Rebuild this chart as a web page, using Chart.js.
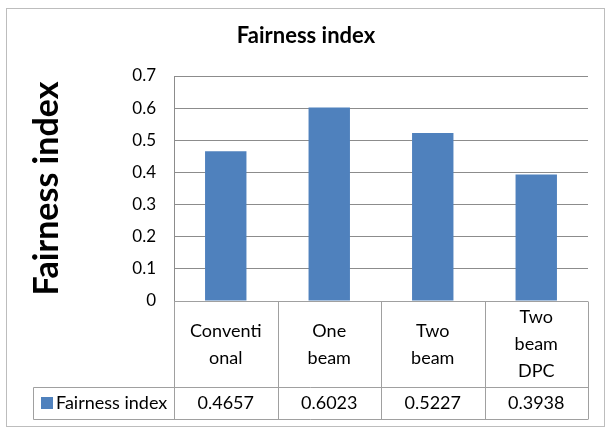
<!DOCTYPE html>
<html lang="en">
<head>
  <meta charset="UTF-8" />
  <title>Fairness index</title>
  <script src="https://cdn.jsdelivr.net/npm/chart.js"></script>
  <style>
    body { margin: 0; background: #fff; }
    canvas { display: block; }
  </style>
</head>
<body>
  <canvas id="fairChart" width="608" height="430"></canvas>

  <script>
    // data (category labels are wrapped the way the original table shows them)
    const categories = [['Conventi', 'onal'], ['One', 'beam'], ['Two', 'beam'], ['Two', 'beam', 'DPC']];
    const seriesName = 'Fairness index';
    const fairness = [0.4657, 0.6023, 0.5227, 0.3938];
    const valueLabels = ['0.4657', '0.6023', '0.5227', '0.3938'];
    const yTicks = [0, 0.1, 0.2, 0.3, 0.4, 0.5, 0.6, 0.7];

    const barColor = '#4f81bd';
    const lineColor = '#a0a0a0';
    const font = 'Lato';

    // white background + outer chart frame
    const frame = {
      id: 'frame',
      beforeDraw(chart) {
        const ctx = chart.ctx;
        ctx.save();
        ctx.fillStyle = '#fff';
        ctx.fillRect(0, 0, chart.width, chart.height);
        ctx.strokeStyle = '#bdbdbd';
        ctx.lineWidth = 1;
        ctx.strokeRect(6.5, 8.5, 598, 418);
        ctx.restore();
      }
    };

    // Excel style data table under the plot
    const dataTable = {
      id: 'dataTable',
      afterDraw(chart) {
        const { ctx, chartArea: a, scales: { x } } = chart;
        const half = (a.right - a.left) / categories.length / 2;
        const top = Math.round(a.bottom) + 0.5;
        const mid = 387.5, bottom = 419.5, legendLeft = 33.5;

        ctx.save();
        ctx.strokeStyle = lineColor;
        ctx.lineWidth = 1;
        ctx.beginPath();
        ctx.moveTo(a.left, top); ctx.lineTo(a.right, top);
        ctx.moveTo(legendLeft, mid); ctx.lineTo(a.right, mid);
        ctx.moveTo(legendLeft, bottom); ctx.lineTo(a.right, bottom);
        ctx.moveTo(legendLeft, mid); ctx.lineTo(legendLeft, bottom);
        for (let i = 0; i <= categories.length; i++) {
          const cx = Math.round(a.left + i * half * 2) + 0.5;
          ctx.moveTo(cx, top); ctx.lineTo(cx, bottom);
        }
        ctx.stroke();

        ctx.fillStyle = '#000';
        ctx.font = '18px ' + font;
        ctx.textAlign = 'center';
        ctx.textBaseline = 'middle';
        const lh = 27;
        const rowMid = (top + mid) / 2;
        categories.forEach((lines, i) => {
          const cx = x.getPixelForValue(i);
          const y0 = rowMid - (lines.length - 1) * lh / 2;
          lines.forEach((t, j) => ctx.fillText(t, cx, y0 + j * lh));
          ctx.fillText(valueLabels[i], cx, (mid + bottom) / 2);
        });

        // legend key
        ctx.fillStyle = barColor;
        ctx.fillRect(41, 397, 12, 12);
        ctx.fillStyle = '#000';
        ctx.textAlign = 'left';
        ctx.fillText(seriesName, 56, (mid + bottom) / 2);
        ctx.restore();
      }
    };

    new Chart(document.getElementById('fairChart'), {
      type: 'bar',
      data: {
        labels: categories,
        datasets: [{
          label: seriesName,
          data: fairness,
          backgroundColor: barColor,
          barPercentage: 0.4,
          categoryPercentage: 1.0
        }]
      },
      options: {
        responsive: false,
        devicePixelRatio: 1,
        animation: false,
        layout: { padding: { left: 24, right: 20, top: 0, bottom: 129 } },
        plugins: {
          legend: { display: false },
          tooltip: { enabled: false },
          title: {
            display: true,
            text: seriesName,
            color: '#000',
            font: { family: font, size: 22, weight: 'bold' },
            padding: { top: 23, bottom: 26.6 }
          }
        },
        scales: {
          x: { display: false },
          y: {
            min: 0,
            max: 0.7,
            afterBuildTicks: s => { s.ticks = yTicks.map(v => ({ value: v })); },
            afterFit: s => { s.width = 150; },
            ticks: {
              color: '#000',
              padding: 18,
              font: { family: font, size: 17 },
              callback: v => String(v)
            },
            grid: { color: '#8c8c8c', drawTicks: false },
            border: { display: true, color: '#8c8c8c' },
            title: {
              display: true,
              text: seriesName,
              color: '#000',
              font: { family: font, size: 34, weight: 'bold' },
              padding: { top: 3, bottom: 0 }
            }
          }
        }
      },
      plugins: [frame, dataTable]
    });
  </script>
</body>
</html>
